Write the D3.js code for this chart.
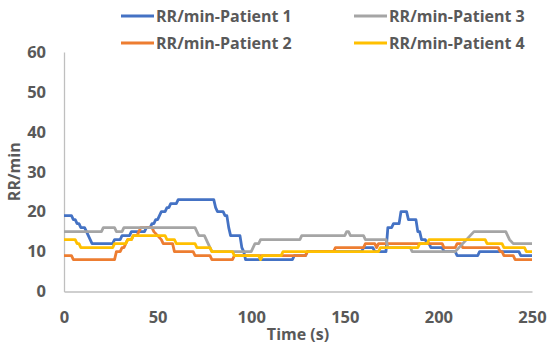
<!DOCTYPE html>
<html>
<head>
<meta charset="utf-8">
<script src="https://cdn.jsdelivr.net/npm/d3@7"></script>
<style>
  body { margin: 0; background: #fff; }
  text { font-family: "Open Sans", "Liberation Sans", sans-serif; font-weight: bold; fill: #595959; }
</style>
</head>
<body>
<div id="chart"></div>
<script>
/* DATA - [time (s), RR/min] vertices */
const patient1 = [[0,19],[4,19],[5,18],[6,18],[7,17],[8,17],[9,16],[11,16],[12,15],[13,14],[14,13],[15,12],[26,12],[27,13],[30,13],[31,14],[35,14],[36,15],[43,15],[44,16],[46,16],[47,17],[48,17],[49,18],[50,18],[51,19],[52,20],[54,20],[55,21],[56,21],[57,22],[60,22],[61,23],[80,23],[81,21],[82,20],[85,20],[86,19],[87,19],[88,16],[89,14],[94,14],[95,11],[96,10],[97,8],[122,8],[123,9],[129,9],[130,10],[159,10],[160,11],[165,11],[166,10],[172,10],[173,16],[175,16],[176,17],[179,17],[180,20],[183,20],[184,18],[188,18],[189,15],[190,15],[191,13],[193,13],[194,12],[195,12],[196,11],[202,11],[203,10],[209,10],[210,9],[221,9],[222,10],[243,10],[244,9],[250,9]];
const patient2 = [[0,9],[4,9],[5,8],[27,8],[28,10],[30,10],[31,11],[32,11],[33,12],[34,13],[36,13],[37,14],[39,14],[40,15],[41,16],[47,16],[48,15],[50,14],[52,13],[53,12],[58,12],[59,10],[69,10],[70,9],[78,9],[79,8],[90,8],[91,9],[129,9],[130,10],[144,10],[145,11],[160,11],[161,12],[166,12],[167,11],[168,12],[202,12],[203,11],[209,11],[210,12],[212,12],[213,11],[232,11],[233,10],[234,10],[235,9],[240,9],[241,8],[250,8]];
const patient3 = [[0,15],[20,15],[21,16],[27,16],[28,15],[31,15],[32,16],[70,16],[71,15],[72,14],[75,14],[76,13],[77,12],[78,11],[79,10],[100,10],[101,11],[102,12],[104,12],[105,13],[126,13],[127,14],[150,14],[151,15],[152,15],[153,14],[160,14],[161,13],[172,13],[173,11],[185,11],[186,10],[209,10],[211,11],[213,12],[215,13],[217,14],[219,15],[236,15],[237,14],[238,13],[240,12],[250,12]];
const patient4 = [[0,13],[6,13],[7,12],[8,12],[9,11],[26,11],[27,12],[33,12],[34,13],[36,13],[37,14],[54,14],[55,13],[59,13],[60,12],[70,12],[71,11],[78,11],[79,10],[90,10],[91,9],[104,9],[105,8],[106,9],[116,9],[117,10],[168,10],[169,11],[189,11],[190,12],[194,12],[195,13],[225,13],[226,12],[234,12],[235,11],[246,11],[247,10],[250,10]];

const seriesNames = ["RR/min-Patient 1", "RR/min-Patient 2", "RR/min-Patient 3", "RR/min-Patient 4"];
const seriesColors = ["#4472C4", "#ED7D31", "#A5A5A5", "#FFC000"];
const xTicks = [0, 50, 100, 150, 200, 250];
const yTicks = [0, 10, 20, 30, 40, 50, 60];

/* CONSTANTS */
const width = 550, height = 346;
const margin = { top: 52, right: 18, bottom: 54.5, left: 64 };

const svg = d3.select("#chart").append("svg")
  .attr("width", width)
  .attr("height", height);

// + SCALES
const xScale = d3.scaleLinear()
  .domain([0, 250])
  .range([margin.left, width - margin.right]);

const yScale = d3.scaleLinear()
  .domain([0, 60])
  .range([height - margin.bottom, margin.top]);

// + AXES
svg.append("g")
  .attr("transform", `translate(0, ${yScale(0)})`)
  .call(d3.axisBottom(xScale).tickValues(xTicks).tickSize(0).tickSizeOuter(0).tickPadding(20));

svg.append("g")
  .attr("transform", `translate(${xScale(0)}, 0)`)
  .call(d3.axisLeft(yScale).tickValues(yTicks).tickSize(0).tickSizeOuter(0).tickPadding(18));

svg.selectAll(".domain")
  .attr("stroke", "#BFBFBF")
  .attr("stroke-width", 1.3);

svg.selectAll(".tick text")
  .style("font-size", "16.5px")
  .attr("fill", "#595959");

// axis titles
svg.append("text")
  .attr("x", (xScale(0) + xScale(250)) / 2)
  .attr("y", 340)
  .attr("text-anchor", "middle")
  .style("font-size", "16px")
  .text("Time (s)");

svg.append("text")
  .attr("transform", `translate(20, ${(yScale(0) + yScale(60)) / 2}) rotate(-90)`)
  .attr("text-anchor", "middle")
  .style("font-size", "16px")
  .text("RR/min");

// + LINES
const lineGen = d3.line()
  .x(d => xScale(d[0]))
  .y(d => yScale(d[1]))
  .curve(d3.curveLinear);

const allSeries = [patient1, patient2, patient3, patient4];

svg.selectAll(".line")
  .data(allSeries)
  .join("path")
  .attr("class", "line")
  .attr("fill", "none")
  .attr("stroke", (d, i) => seriesColors[i])
  .attr("stroke-width", 2.8)
  .attr("stroke-linejoin", "round")
  .attr("d", d => lineGen(d));

// + LEGEND (Patient 1, 3 on first row; 2, 4 on second)
const legendPos = [[121, 16], [121, 43], [354, 16], [354, 43]];

const legend = svg.selectAll(".legend")
  .data(seriesNames)
  .join("g")
  .attr("class", "legend")
  .attr("transform", (d, i) => `translate(${legendPos[i][0]}, ${legendPos[i][1]})`);

legend.append("line")
  .attr("x1", 0).attr("x2", 33)
  .attr("stroke", (d, i) => seriesColors[i])
  .attr("stroke-width", 2.8);

legend.append("text")
  .attr("x", 35)
  .attr("dy", "0.35em")
  .style("font-size", "16px")
  .text(d => d);
</script>
</body>
</html>
